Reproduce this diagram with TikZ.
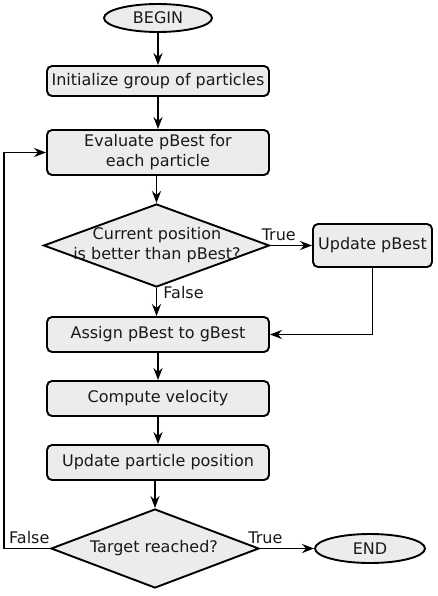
\documentclass[tikz,border=0pt]{standalone}
\usepackage{fontspec}
\setmainfont{DejaVu Sans}
\usetikzlibrary{shapes.geometric,arrows.meta}
\definecolor{boxfill}{RGB}{236,236,236}
\begin{document}
\begin{tikzpicture}[x=1pt,y=-1pt,
  every node/.style={font=\fontsize{16}{20}\selectfont, text=black!90},
  proc/.style={draw, line width=1.9pt, fill=boxfill, rounded corners=5pt, minimum width=222pt, inner sep=0pt, align=center},
  term/.style={draw, line width=1.9pt, fill=boxfill, ellipse, inner sep=0pt},
  dec/.style={draw, line width=1.9pt, fill=boxfill, diamond, inner sep=0pt, shape aspect=2.7},
  lbl/.style={inner sep=0pt},
  conn/.style={line width=1.9pt, -{Stealth[length=12pt,width=9pt,inset=4pt]}}
]
\useasboundingbox (0,0) rectangle (438,596);
\node[term, minimum width=108pt, minimum height=28pt] (begin) at (158,18) {BEGIN};
\node[proc, minimum height=30pt] (init) at (158,81) {Initialize group of particles};
\node[proc, minimum height=45pt] (eval) at (158,152.5) {Evaluate pBest for\\each particle};
\node[dec, minimum width=226pt, minimum height=83pt] (d1) at (156.5,245.5) {};
\node[lbl, align=center] (d1t) at (157,245) {Current position\\is better than pBest?};
\node[proc, minimum width=119pt, minimum height=43pt] (upd) at (372.5,245.5) {Update pBest};
\node[proc, minimum height=35pt] (assign) at (158,334.5) {Assign pBest to gBest};
\node[proc, minimum height=35pt] (comp) at (158,398.5) {Compute velocity};
\node[proc, minimum height=35pt] (pos) at (158,462.5) {Update particle position};
\node[dec, minimum width=208pt, minimum height=79pt] (d2) at (155,548.5) {};
\node[lbl] (d2t) at (154,548) {Target reached?};
\node[term, minimum width=110pt, minimum height=29pt] (end) at (370,548.5) {END};
\coordinate (lp) at (4,548.5);

\draw[conn] (begin) -- (init);
\draw[conn] (init) -- (eval);
\draw[conn] (eval.south -| d1.north) -- (d1.north);
\draw[conn] (d1.east) -- node[lbl, above=4pt, pos=0.2] (t1) {True} (upd.west);
\draw[conn] (d1.south) -- node[lbl, right=6pt, pos=0.15] (f1) {False} (assign.north -| d1.south);
\draw[conn] (upd.south) |- (assign.east);
\draw[conn] (assign) -- (comp);
\draw[conn] (comp) -- (pos);
\draw[conn] (pos.south -| d2.north) -- (d2.north);
\draw[conn] (d2.east) -- node[lbl, above=4pt, pos=0.1] (t2) {True} (end.west);
\draw[conn] (d2.west) -- node[lbl, above=4pt, pos=0.45] (f2) {False} (lp) |- (eval.west);
\end{tikzpicture}
\end{document}
